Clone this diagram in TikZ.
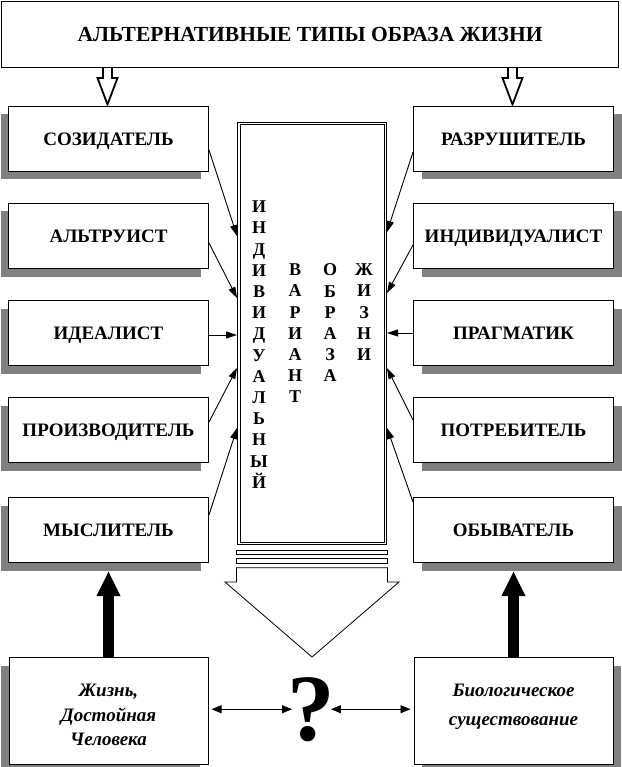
\documentclass[tikz,border=0pt]{standalone}
\usepackage{fontspec}
\setmainfont{Liberation Serif}
\usetikzlibrary{arrows.meta,shadows,calc}
\begin{document}
\begin{tikzpicture}[x=1pt,y=-1pt,
  lbl/.style={draw, line width=1pt, fill=white, minimum width=200pt, minimum height=65pt,
    font=\bfseries\fontsize{19}{21}\selectfont, text height=13pt, text depth=0pt, inner sep=0pt},
  lshadow/.style={drop shadow={shadow xshift=-8pt, shadow yshift=-8pt, fill=black!50, opacity=1}},
  rshadow/.style={drop shadow={shadow xshift=8pt, shadow yshift=-8pt, fill=black!50, opacity=1}},
  conn/.style={line width=0.9pt, -{Triangle[length=11pt,width=7pt]}},
  dbl/.style={line width=0.9pt, {Triangle[length=10pt,width=8pt]}-{Triangle[length=10pt,width=8pt]}},
  thickarrow/.style={line width=11pt, -{Triangle[length=25pt,width=22pt]}},
  hollow/.style={line width=1.8pt, line join=miter},
  colword/.style={font=\bfseries\fontsize{18}{21.2}\selectfont, align=center, inner sep=0pt, anchor=north},
  btext/.style={font=\bfseries\itshape\fontsize{19}{24.5}\selectfont, align=center, inner sep=0pt, anchor=north},
  bbox/.style={draw, line width=1pt, fill=white, minimum width=199pt, minimum height=107pt, inner sep=0pt}
]
\useasboundingbox (0,0) rectangle (621,767);

% title
\node[draw, line width=1pt, fill=white, minimum width=617pt, minimum height=66pt, inner sep=0pt,
  font=\bfseries\fontsize{21.5}{23}\selectfont, text height=14pt, text depth=0pt] (title) at (310,34.5)
  {АЛЬТЕРНАТИВНЫЕ ТИПЫ ОБРАЗА ЖИЗНИ};

% left boxes
\node[lbl, lshadow] (s1) at (108.5,139) {СОЗИДАТЕЛЬ};
\node[lbl, lshadow] (s2) at (108.5,236) {АЛЬТРУИСТ};
\node[lbl, lshadow] (s3) at (108.5,333) {ИДЕАЛИСТ};
\node[lbl, lshadow] (s4) at (108.5,430) {ПРОИЗВОДИТЕЛЬ};
\node[lbl, lshadow] (s5) at (108.5,530) {МЫСЛИТЕЛЬ};

% right boxes
\node[lbl, rshadow] (r1) at (513.5,139) {РАЗРУШИТЕЛЬ};
\node[lbl, rshadow] (r2) at (513.5,236) {ИНДИВИДУАЛИСТ};
\node[lbl, rshadow] (r3) at (513.5,333) {ПРАГМАТИК};
\node[lbl, rshadow] (r4) at (513.5,430) {ПОТРЕБИТЕЛЬ};
\node[lbl, rshadow] (r5) at (513.5,530) {ОБЫВАТЕЛЬ};

% hollow arrows from title
\coordinate (h1) at (107.5,68);
\coordinate (h2) at (512.5,68);
\draw[hollow] (h1) ++(-4.5,0) -- ++(0,10) -- ++(-5.5,0) -- ++(10,26.5) -- ++(10,-26.5) -- ++(-5.5,0) -- ++(0,-10);
\draw[hollow] (h2) ++(-4.5,0) -- ++(0,10) -- ++(-5.5,0) -- ++(10,26.5) -- ++(10,-26.5) -- ++(-5.5,0) -- ++(0,-10);

% central column
\node[draw, double, line width=1pt, double distance=1.5pt, minimum width=146.5pt, minimum height=419.5pt, inner sep=0pt] (col) at (312,333.5) {};
\node[colword] (w1) at (259,200.7) {И\\Н\\Д\\И\\В\\И\\Д\\У\\А\\Л\\Ь\\Н\\Ы\\Й};
\node[colword] (w2) at (295,263.8) {В\\А\\Р\\И\\А\\Н\\Т};
\node[colword] (w3) at (330,263.8) {О\\Б\\Р\\А\\З\\А};
\node[colword] (w4) at (364,263.8) {Ж\\И\\З\\Н\\И};

% stripes and big arrow below column
\draw[line width=0.8pt] (236.5,550) rectangle (387.5,554.3);
\draw[line width=0.8pt] (236.5,558.3) rectangle (387.5,563.3);
\draw[line width=0.8pt, fill=white] (236.5,567.7) -- (387.5,567.7) -- (387.5,582) -- (399,582) -- (312,657) -- (225,582) -- (236.5,582) -- cycle;

% connector targets on column
\coordinate (tl1) at (237,236);
\coordinate (tl2) at (237,298);
\coordinate (tl3) at (237,335);
\coordinate (tl4) at (237,368);
\coordinate (tl5) at (237,428);
\coordinate (tr1) at (387,232);
\coordinate (tr2) at (387,293);
\coordinate (tr3) at (387,333);
\coordinate (tr4) at (387,368);
\coordinate (tr5) at (387,428);

\draw[conn] ([yshift=-11pt]s1.east) -- (tl1);
\draw[conn] ([yshift=-7pt]s2.east) -- (tl2);
\draw[conn] ([yshift=-2pt]s3.east) -- (tl3);
\draw[conn] ([yshift=8pt]s4.east) -- (tl4);
\draw[conn] ([yshift=15pt]s5.east) -- (tl5);
\draw[conn] ([yshift=-13pt]r1.west) -- (tr1);
\draw[conn] ([yshift=-9pt]r2.west) -- (tr2);
\draw[conn] (r3.west) -- (tr3);
\draw[conn] ([yshift=10pt]r4.west) -- (tr4);
\draw[conn] ([yshift=28pt]r5.west) -- (tr5);

% bottom boxes
\node[bbox, lshadow] (b1) at (108.5,711) {};
\node[bbox, rshadow] (b2) at (513.5,711) {};
\node[btext] (t1) at (108.5,684) {Жизнь,\\Достойная\\Человека};
\node[btext, font=\bfseries\itshape\fontsize{19}{29}\selectfont] (t2) at (513.5,684) {Биологическое\\существование};

% thick arrows
\draw[thickarrow] (b1.north) -- ([yshift=-8pt]s5.south);
\draw[thickarrow] (b2.north) -- ([yshift=-8pt]r5.south);

% question mark and double arrows
\node[font=\bfseries\fontsize{95}{95}\selectfont, inner sep=0pt, anchor=base] (q) at (311.5,740) {?};
\draw[dbl, shorten <=3pt] (b1.east |- q.west) -- ([xshift=4.5pt]q.west);
\draw[dbl, shorten <=3pt] (b2.west |- q.east) -- ([xshift=-4.5pt]q.east);
\end{tikzpicture}
\end{document}
